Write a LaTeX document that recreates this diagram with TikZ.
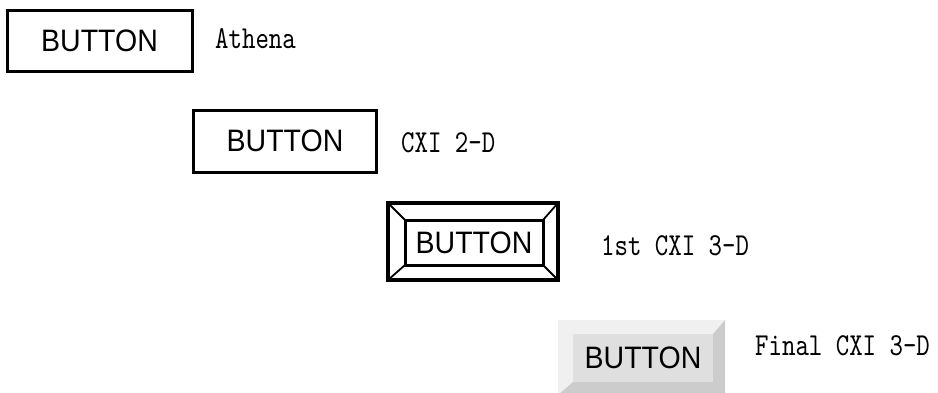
\documentclass[tikz,border=0pt]{standalone}
\usepackage{fontspec}
\newfontfamily\btnfont[FakeStretch=0.92]{Liberation Sans}
\newfontfamily\lblfont[FakeStretch=0.8]{lmmono10-regular.otf}
\usetikzlibrary{positioning}
\tikzset{
  btn/.style={draw,line width=3pt,inner sep=0pt,outer sep=0pt,
    font=\btnfont\fontsize{31}{31}\selectfont},
  lbl/.style={anchor=base west,inner sep=0pt,
    font=\lblfont\fontsize{32}{32}\selectfont},
  bevel/.style={line width=1.8pt}
}
\begin{document}
\begin{tikzpicture}[x=1pt,y=-1pt]
  \useasboundingbox (0,0) rectangle (938,392);
  \node[btn,minimum width=185pt,minimum height=61pt] (athena) at (99.5,40.5) {BUTTON};
  \node[lbl] (athenalbl) at (215,48) {Athena};
  \node[btn,minimum width=183pt,minimum height=62pt] (twod) at (285,141) {BUTTON};
  \node[lbl] (twodlbl) at (401,152) {CXI 2-D};
  \node[btn,line width=3.5pt,minimum width=170pt,minimum height=77pt] (first) at (473,241.5) {};
  \node[btn,minimum width=138pt,minimum height=45pt] (firstin) at (474,242.5) {BUTTON};
  \foreach \c in {north west,north east,south east,south west}
    \draw[bevel] (first.\c) -- (firstin.\c);
  \node[lbl] (firstlbl) at (601,255) {1st CXI 3-D};
  \node[inner sep=0pt,outer sep=0pt,minimum width=167pt,minimum height=75pt] (final) at (641.5,357.5) {};
  \node[btn,draw=none,fill=gray!25,minimum width=140pt,minimum height=48pt] (finalin) at (643,358) {BUTTON};
  \fill[gray!12] (final.north west) -- (final.north east) -- (finalin.north east)
    -- (finalin.north west) -- (finalin.south west) -- (final.south west) -- cycle;
  \fill[gray!40] (final.north east) -- (final.south east) -- (final.south west)
    -- (finalin.south west) -- (finalin.south east) -- (finalin.north east) -- cycle;
  \node[lbl] (finallbl) at (755,355) {Final CXI 3-D};
\end{tikzpicture}
\end{document}
